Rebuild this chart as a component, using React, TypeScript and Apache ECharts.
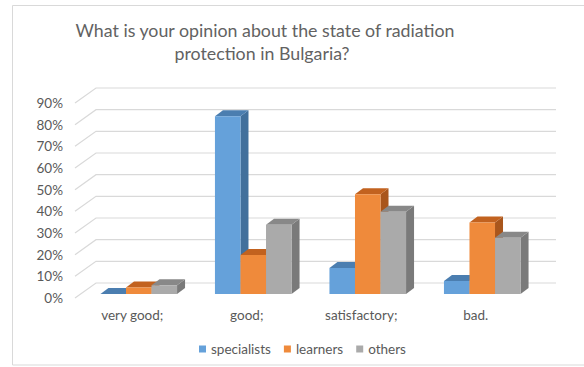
import React, { useEffect, useRef } from "react";
import * as echarts from "echarts";

const categories = ["very good;", "good;", "satisfactory;", "bad."];
const seriesNames = ["specialists", "learners", "others"];
const specialists = [0, 82, 12, 6];
const learners = [3, 18, 46, 33];
const others = [4, 32, 38, 26];
const yTicks = [0, 10, 20, 30, 40, 50, 60, 70, 80, 90];

const FONT = "Lato";
const TEXT = "#595959";
const GRID = "#d9d9d9";

const faceColors = [
  { front: "#65a1da", top: "#4b7eb0", side: "#42709c" },
  { front: "#ef8a3b", top: "#c2621f", side: "#a9561c" },
  { front: "#aaaaaa", top: "#888888", side: "#7a7a7a" },
];

const BACK_DX = 21;
const BACK_DY = -15;
const BAR_SHIFT_X = 6.5;
const BAR_SHIFT_Y = -4;
const BAR_DEPTH_X = 8;
const BAR_DEPTH_Y = -6;

function barSeries(name: string, values: number[], s: number) {
  const c = faceColors[s];
  return {
    type: "custom",
    name,
    itemStyle: { color: c.front },
    data: values.map((v, i) => [i, v]),
    encode: { x: 0, y: 1 },
    z: 3 + s,
    renderItem: (params: any, api: any) => {
      const cat = api.value(0);
      const val = api.value(1);
      const top = api.coord([cat, val]);
      const base = api.coord([cat, 0]);
      const band = api.size([1, 0])[0];
      const w = band * 0.223;
      const gw = w * 3;
      const x = top[0] - gw / 2 + s * w + BAR_SHIFT_X;
      const yT = top[1] + BAR_SHIFT_Y;
      const yB = base[1] + BAR_SHIFT_Y;
      return {
        type: "group",
        children: [
          {
            type: "polygon",
            shape: {
              points: [
                [x + w, yT],
                [x + w + BAR_DEPTH_X, yT + BAR_DEPTH_Y],
                [x + w + BAR_DEPTH_X, yB + BAR_DEPTH_Y],
                [x + w, yB],
              ],
            },
            style: { fill: c.side },
          },
          {
            type: "polygon",
            shape: {
              points: [
                [x, yT],
                [x + BAR_DEPTH_X, yT + BAR_DEPTH_Y],
                [x + w + BAR_DEPTH_X, yT + BAR_DEPTH_Y],
                [x + w, yT],
              ],
            },
            style: { fill: c.top },
          },
          {
            type: "rect",
            shape: { x, y: yT, width: w, height: Math.max(yB - yT, 0) },
            style: { fill: c.front },
          },
        ],
      };
    },
  };
}

export default function App() {
  const ref = useRef<HTMLDivElement>(null);
  useEffect(() => {
    if (!ref.current) return;
    const chart = echarts.init(ref.current, undefined, { renderer: "svg" });
    chart.setOption({
      animation: false,
      backgroundColor: "#ffffff",
      textStyle: { fontFamily: FONT },
      graphic: [
        {
          type: "rect",
          shape: { x: 12.5, y: 5.5, width: 620, height: 359.5 },
          style: { fill: "none", stroke: "#d9d9d9", lineWidth: 1 },
          silent: true,
        },
        {
          type: "text",
          x: 265,
          y: 30,
          style: {
            text: "What is your opinion about the state of radiation",
            fontFamily: FONT,
            fontSize: 17.8,
            fill: "#626262",
            textAlign: "center",
            textVerticalAlign: "middle",
          },
        },
        {
          type: "text",
          x: 262,
          y: 52.5,
          style: {
            text: "protection in Bulgaria?",
            fontFamily: FONT,
            fontSize: 17.8,
            fill: "#626262",
            textAlign: "center",
            textVerticalAlign: "middle",
          },
        },
      ],
      legend: {
        data: seriesNames,
        top: 337,
        left: 194,
        icon: "rect",
        itemWidth: 7,
        itemHeight: 7,
        itemGap: 13,
        textStyle: { fontFamily: FONT, fontSize: 13.5, color: TEXT },
      },
      grid: { left: 75, right: 51, top: 103, bottom: 69, containLabel: false },
      xAxis: {
        type: "category",
        data: categories,
        axisLine: { show: false },
        axisTick: { show: false },
        axisLabel: { margin: 10, fontFamily: FONT, fontSize: 13.5, color: TEXT },
      },
      yAxis: {
        type: "value",
        min: 0,
        max: 90,
        interval: 10,
        axisLine: { show: false },
        axisTick: { show: false },
        splitLine: { show: false },
        axisLabel: {
          margin: 12,
          fontFamily: FONT,
          fontSize: 13.5,
          color: TEXT,
          formatter: "{value}%",
        },
      },
      series: [
        {
          type: "custom",
          name: "gridlines",
          data: yTicks.map((v) => [0, v]),
          encode: { x: 0, y: 1 },
          z: 1,
          silent: true,
          renderItem: (params: any, api: any) => {
            const cs = params.coordSys;
            const y = api.coord([0, api.value(1)])[1];
            return {
              type: "polyline",
              shape: {
                points: [
                  [cs.x, y],
                  [cs.x + BACK_DX, y + BACK_DY],
                  [cs.x + cs.width + BACK_DX + 2, y + BACK_DY],
                ],
              },
              style: { stroke: GRID, lineWidth: 1.2, fill: "none" },
            };
          },
        },
        barSeries(seriesNames[0], specialists, 0),
        barSeries(seriesNames[1], learners, 1),
        barSeries(seriesNames[2], others, 2),
      ],
    });
    return () => chart.dispose();
  }, []);
  return (
    <div
      ref={ref}
      style={{ position: "fixed", left: 0, top: 0, width: 584, height: 367 }}
    />
  );
}
